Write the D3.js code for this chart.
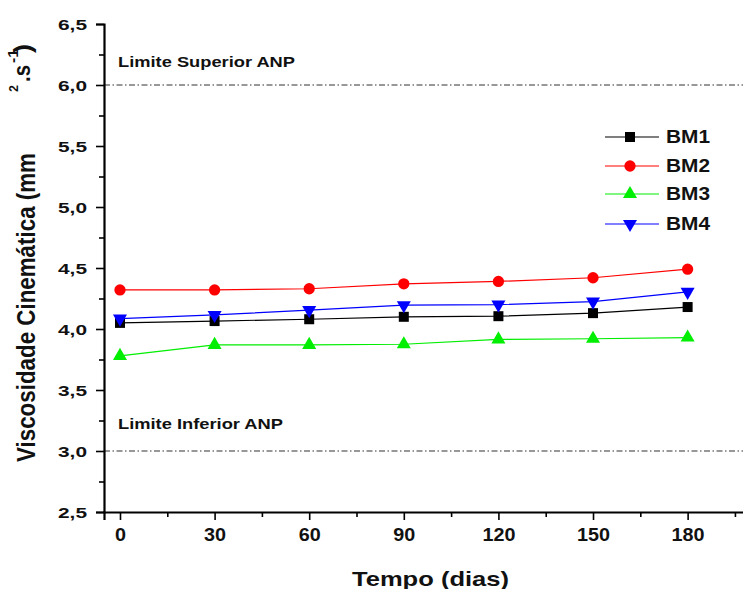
<!DOCTYPE html>
<html><head><meta charset="utf-8">
<script src="https://cdn.jsdelivr.net/npm/d3@7"></script>
<style>body{margin:0;background:#fff}svg{display:block}text{font-family:Arial,"Liberation Sans",sans-serif;font-weight:bold;fill:#111}</style>
</head><body><svg id="c" width="743" height="589"></svg>
<script>
const days = [0, 30, 60, 90, 120, 150, 180];
const BM1 = [4.05, 4.065, 4.08, 4.10, 4.105, 4.13, 4.18];
const BM2 = [4.32, 4.32, 4.33, 4.37, 4.39, 4.42, 4.49];
const BM3 = [3.78, 3.87, 3.87, 3.875, 3.915, 3.92, 3.93];
const BM4 = [4.085, 4.115, 4.155, 4.195, 4.20, 4.225, 4.305];
const seriesNames = ["BM1", "BM2", "BM3", "BM4"];
const seriesColors = ["#000000", "#ff0000", "#00ee00", "#0000ff"];
const seriesSymbols = ["square", "circle", "triangle", "triangleDown"];
const yTicks = [2.5, 3.0, 3.5, 4.0, 4.5, 5.0, 5.5, 6.0, 6.5];
const limits = [{v: 6.0, label: "Limite Superior ANP"}, {v: 3.0, label: "Limite Inferior ANP"}];

const svg = d3.select("#c");
const x = d3.scaleLinear().domain([-5.07, 202]).range([104, 757]);
const y = d3.scaleLinear().domain([2.5, 6.5]).range([512, 24]);
const fmt = d => d3.format(".1f")(d).replace(".", ",");

// limit lines
limits.forEach(l => {
  svg.append("line").attr("x1", 104).attr("x2", 743).attr("y1", y(l.v)).attr("y2", y(l.v))
    .attr("stroke", "#333").attr("stroke-width", 1.2).attr("stroke-dasharray", "6,2.5,1.5,2.5");
});
svg.append("text").attr("x", 118).attr("y", y(6.0) - 18).attr("font-size", 15)
  .attr("textLength", 177).attr("lengthAdjust", "spacingAndGlyphs").text(limits[0].label);
svg.append("text").attr("x", 118).attr("y", y(3.0) - 22).attr("font-size", 15)
  .attr("textLength", 165).attr("lengthAdjust", "spacingAndGlyphs").text(limits[1].label);

// y axis
svg.append("g").attr("class", "yax").attr("transform", "translate(104,0)")
  .call(d3.axisLeft(y).tickValues(yTicks).tickFormat(fmt).tickSize(8).tickPadding(9));
svg.append("g").attr("transform", "translate(104,0)")
  .call(d3.axisLeft(y).tickValues(d3.range(2.75, 6.5, 0.5)).tickFormat("").tickSize(5))
  .select(".domain").remove();
// x axis
svg.append("g").attr("class", "xax").attr("transform", "translate(0,512)")
  .call(d3.axisBottom(x).tickValues(days).tickSize(8).tickPadding(8));
svg.append("g").attr("transform", "translate(0,512)")
  .call(d3.axisBottom(x).tickValues(d3.range(15, 200, 30)).tickFormat("").tickSize(5))
  .select(".domain").remove();
svg.selectAll(".domain").attr("stroke-width", 2.2).attr("stroke", "#000");
svg.selectAll(".tick line").attr("stroke-width", 1.6).attr("stroke", "#000");
svg.selectAll(".tick text").attr("font-weight", "bold").attr("fill", "#111")
  .attr("font-family", "Arial, 'Liberation Sans', sans-serif").attr("lengthAdjust", "spacingAndGlyphs");
svg.selectAll(".yax .tick text").attr("font-size", 14.5).attr("textLength", 29).attr("dy", "0.36em");
svg.selectAll(".xax .tick text").attr("font-size", 17.5).attr("dy", "0.72em")
  .attr("textLength", d => String(d).length * 11);

// series
const all = [BM1, BM2, BM3, BM4];
const symMap = {
  square: d3.symbol().type(d3.symbolSquare).size(100),
  circle: d3.symbol().type(d3.symbolCircle).size(100),
  triangle: d3.symbol().type(d3.symbolTriangle).size(85),
  triangleDown: d3.symbol().type(d3.symbolTriangle).size(85)
};
const line = d3.line().x((d, i) => x(days[i])).y(d => y(d));
all.forEach((vals, k) => {
  svg.append("path").attr("d", line(vals)).attr("fill", "none")
    .attr("stroke", seriesColors[k]).attr("stroke-width", 1.2);
  vals.forEach((v, i) => {
    const rot = seriesSymbols[k] === "triangleDown" ? " rotate(180)" : "";
    svg.append("path").attr("d", symMap[seriesSymbols[k]]())
      .attr("transform", `translate(${x(days[i])},${y(v)})${rot}`)
      .attr("fill", seriesColors[k]);
  });
});

// legend
const legY = [137, 166, 194, 224];
seriesNames.forEach((n, k) => {
  const g = svg.append("g");
  g.append("line").attr("x1", 605).attr("x2", 659).attr("y1", legY[k]).attr("y2", legY[k])
    .attr("stroke", seriesColors[k]).attr("stroke-width", 1.2);
  const rot = seriesSymbols[k] === "triangleDown" ? " rotate(180)" : "";
  g.append("path").attr("d", symMap[seriesSymbols[k]]())
    .attr("transform", `translate(630,${legY[k]})${rot}`).attr("fill", seriesColors[k]);
  g.append("text").attr("x", 666).attr("y", legY[k] + 6).attr("font-size", 17.5)
    .attr("textLength", 44).attr("lengthAdjust", "spacingAndGlyphs").text(n);
});

// axis titles
svg.append("text").attr("x", 352).attr("y", 586).attr("font-size", 21)
  .attr("textLength", 157).attr("lengthAdjust", "spacingAndGlyphs").text("Tempo (dias)");
function rot(txt, bx, yStart, len, size) {
  svg.append("text").attr("transform", `translate(${bx},${yStart}) scale(1.15,1) rotate(-90)`)
    .attr("font-size", size).attr("textLength", len).attr("lengthAdjust", "spacingAndGlyphs").text(txt);
}
rot("Viscosidade Cinemática (mm", 35, 462, 309, 23);
rot("2", 18, 92, 7, 11);
rot(".s", 30, 82, 17, 20);
rot("-1", 18, 63, 14, 12);
rot(")", 31, 53, 9, 20);
</script></body></html>
